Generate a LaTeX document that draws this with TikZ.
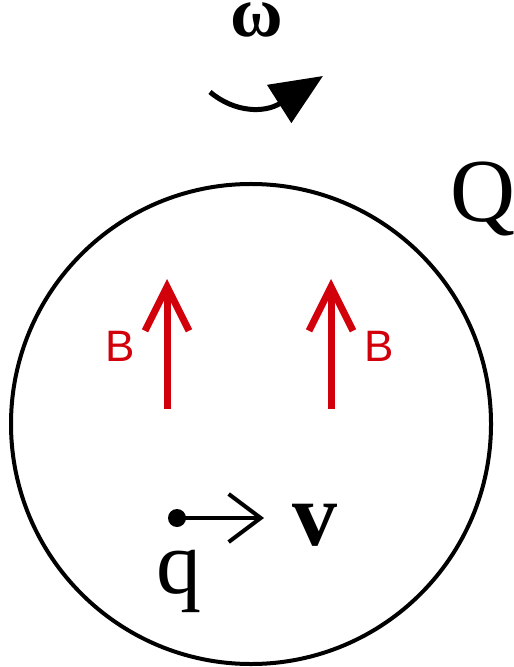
\documentclass[tikz,border=0pt]{standalone}
\usepackage{fontspec}
\setmainfont{Liberation Serif}
\setsansfont{Liberation Sans}
\usepackage{tikz}
\usetikzlibrary{arrows.meta, positioning}

\definecolor{fieldred}{RGB}{210,0,10}

\begin{document}
\begin{tikzpicture}[%
  x=0.5pt, y=-0.5pt,%
  sphere/.style={draw=black, line width=2pt},%
  fieldarrow/.style={draw=fieldred, line width=3.5pt, -{Straight Barb[length=22pt, width=22pt, line width=3.5pt]}},%
  blabel/.style={text=fieldred, font=\sffamily\fontsize{22}{22}\selectfont, inner sep=0pt},%
  spinarrow/.style={line width=2.5pt, -{Triangle[length=26pt, width=22pt]}},%
  velarrow/.style={line width=2pt, -{Straight Barb[length=16pt, width=24pt, line width=2pt]}},%
  charge/.style={circle, fill=black, inner sep=0pt, minimum size=9pt},%
  biglabel/.style={font=\fontsize{45}{45}\selectfont, inner sep=0pt}%
]
  \useasboundingbox (0,0) rectangle (513,667);
  % sphere
  \draw[sphere] (251,424) circle[radius=120pt];
  \node[biglabel, anchor=base west] (Q) at (450,222) {Q};
  % rotation
  \node[font=\fontsize{36}{36}\selectfont\bfseries, inner sep=0pt, anchor=base] (omega) at (257,37) {ω};
  \coordinate (w1) at (210,92);
  \coordinate (w2) at (323,76);
  \draw[spinarrow] (w1) .. controls (235,113) and (265,113) .. (w2);
  % field
  \coordinate (B1s) at (167,409);
  \coordinate (B1e) at (167,279);
  \coordinate (B2s) at (331,409);
  \coordinate (B2e) at (331,279);
  \draw[fieldarrow] (B1s) -- (B1e);
  \draw[fieldarrow] (B2s) -- (B2e);
  \node[blabel] (B1) at (120,346) {B};
  \node[blabel] (B2) at (379,346) {B};
  % charge
  \node[charge] (q0) at (177,518) {};
  \coordinate (vtip) at (264,518);
  \draw[velarrow] (q0.center) -- (vtip);
  \node[biglabel, anchor=base west] (q) at (156,593) {q};
  \node[biglabel, anchor=base west, font=\fontsize{45}{45}\selectfont\bfseries] (v) at (292,545) {v};
\end{tikzpicture}
\end{document}
